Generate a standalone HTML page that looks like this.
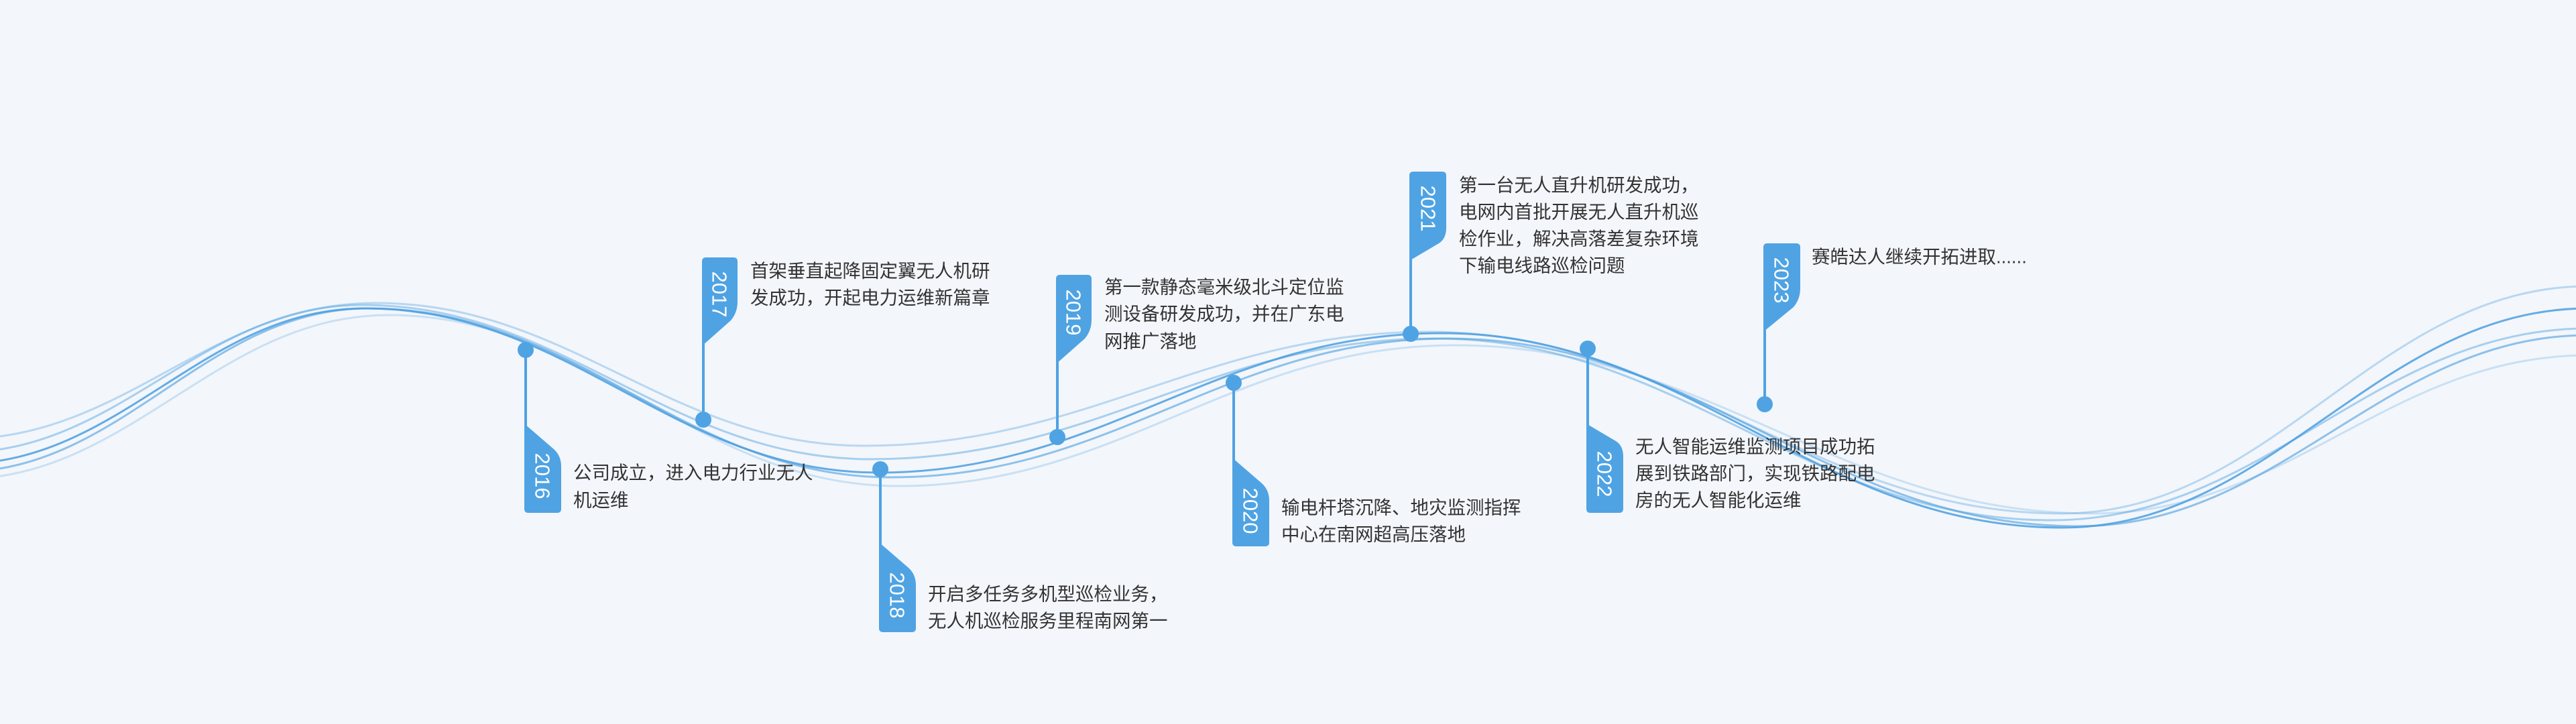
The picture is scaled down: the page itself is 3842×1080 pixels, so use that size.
<!DOCTYPE html>
<html><head><meta charset="utf-8"><style>
html,body{margin:0;padding:0;background:#f3f6fb;}
svg{display:block;}
.t{font-family:"Liberation Sans","Noto Sans CJK SC",sans-serif;font-size:27.5px;fill:#333;}
.y{font-family:"Liberation Sans","Noto Sans CJK SC",sans-serif;font-size:31px;fill:#fff;}
</style></head><body>
<svg width="3842" height="1080" viewBox="0 0 3842 1080" xmlns="http://www.w3.org/2000/svg">
<rect width="3842" height="1080" fill="#f3f6fb"/>
<g fill="none" stroke="#4a9fe0" stroke-width="3">
<path opacity="0.35" d="M-60,655 C188,655 312,452 560,452 C852,452 998,665 1290,665 C1622,665 1798,495 2130,495 C2508,495 2698,766 3076,766 C3390,766 3546,427 3860,427"/>
<path opacity="0.85" d="M-60,692 C182,692 303,460 545,460 C851,460 1004,705 1310,705 C1646,705 1814,497 2150,497 C2520,497 2706,787 3076,787 C3390,787 3546,460 3860,460"/>
<path opacity="0.6" d="M-60,704 C184,704 306,460 550,460 C862,460 1018,712 1330,712 C1662,712 1828,505 2160,505 C2536,505 2724,785 3100,785 C3404,785 3556,500 3860,500"/>
<path opacity="0.45" d="M-60,675 C180,675 300,455 540,455 C844,455 996,685 1300,685 C1636,685 1804,505 2140,505 C2508,505 2692,776 3060,776 C3380,776 3540,490 3860,490"/>
<path opacity="0.25" d="M-60,715 C196,715 324,470 580,470 C884,470 1036,725 1340,725 C1672,725 1838,515 2170,515 C2550,515 2740,766 3120,766 C3416,766 3564,530 3860,530"/>
</g>
<g fill="#4fa3e3" stroke="#4fa3e3">
<line x1="784" y1="522" x2="784" y2="640" stroke-width="4"/><circle cx="784" cy="522" r="12" stroke="none"/>
<path stroke="none" d="M782,632 L826,670 Q837,680 837,696 L837,759 Q837,765 831,765 L788,765 Q782,765 782,759 Z"/>
<line x1="1049" y1="500" x2="1049" y2="626" stroke-width="4"/><circle cx="1049" cy="626" r="12" stroke="none"/>
<path stroke="none" d="M1047,390 Q1047,384 1053,384 L1094,384 Q1100,384 1100,390 L1100,450 Q1100,466 1090,478 L1047,516 Z"/>
<line x1="1313" y1="700" x2="1313" y2="820" stroke-width="4"/><circle cx="1313" cy="700" r="12" stroke="none"/>
<path stroke="none" d="M1311,809 L1355,847 Q1366,857 1366,873 L1366,937 Q1366,943 1360,943 L1317,943 Q1311,943 1311,937 Z"/>
<line x1="1577" y1="530" x2="1577" y2="652" stroke-width="4"/><circle cx="1577" cy="652" r="12" stroke="none"/>
<path stroke="none" d="M1575,416 Q1575,410 1581,410 L1622,410 Q1628,410 1628,416 L1628,477 Q1628,493 1618,505 L1575,543 Z"/>
<line x1="1840" y1="571" x2="1840" y2="695" stroke-width="4"/><circle cx="1840" cy="571" r="12" stroke="none"/>
<path stroke="none" d="M1838,683 L1882,721 Q1893,731 1893,747 L1893,809 Q1893,815 1887,815 L1844,815 Q1838,815 1838,809 Z"/>
<line x1="2104" y1="375" x2="2104" y2="498" stroke-width="4"/><circle cx="2104" cy="498" r="12" stroke="none"/>
<path stroke="none" d="M2102,262 Q2102,256 2108,256 L2151,256 Q2157,256 2157,262 L2157,340 Q2157,356 2146,363 L2102,389 Z"/>
<line x1="2368" y1="520" x2="2368" y2="640" stroke-width="4"/><circle cx="2368" cy="520" r="12" stroke="none"/>
<path stroke="none" d="M2366,632 L2410,658 Q2421,665 2421,681 L2421,759 Q2421,765 2415,765 L2372,765 Q2366,765 2366,759 Z"/>
<line x1="2632" y1="480" x2="2632" y2="603" stroke-width="4"/><circle cx="2632" cy="603" r="12" stroke="none"/>
<path stroke="none" d="M2630,369 Q2630,363 2636,363 L2679,363 Q2685,363 2685,369 L2685,430 Q2685,446 2675,458 L2630,495 Z"/>
</g>
<g class="y" text-anchor="middle" dominant-baseline="central">
<text transform="translate(809,710) rotate(90)">2016</text>
<text transform="translate(1073,439) rotate(90)">2017</text>
<text transform="translate(1338,888) rotate(90)">2018</text>
<text transform="translate(1601,466) rotate(90)">2019</text>
<text transform="translate(1865,762) rotate(90)">2020</text>
<text transform="translate(2130,311) rotate(90)">2021</text>
<text transform="translate(2393,707) rotate(90)">2022</text>
<text transform="translate(2657,418) rotate(90)">2023</text>
</g>
<g class="t" dominant-baseline="central">
<text x="855" y="705">公司成立，进入电力行业无人</text>
<text x="855" y="746">机运维</text>
<text x="1119" y="404">首架垂直起降固定翼无人机研</text>
<text x="1119" y="444">发成功，开起电力运维新篇章</text>
<text x="1384" y="886">开启多任务多机型巡检业务，</text>
<text x="1384" y="926">无人机巡检服务里程南网第一</text>
<text x="1647" y="428">第一款静态毫米级北斗定位监</text>
<text x="1647" y="468">测设备研发成功，并在广东电</text>
<text x="1647" y="509">网推广落地</text>
<text x="1911" y="757">输电杆塔沉降、地灾监测指挥</text>
<text x="1911" y="797">中心在南网超高压落地</text>
<text x="2176" y="276">第一台无人直升机研发成功，</text>
<text x="2176" y="316">电网内首批开展无人直升机巡</text>
<text x="2176" y="356">检作业，解决高落差复杂环境</text>
<text x="2176" y="396">下输电线路巡检问题</text>
<text x="2439" y="666">无人智能运维监测项目成功拓</text>
<text x="2439" y="706">展到铁路部门，实现铁路配电</text>
<text x="2439" y="746">房的无人智能化运维</text>
<text x="2702" y="383">赛皓达人继续开拓进取......</text>
</g>
</svg>
</body></html>
